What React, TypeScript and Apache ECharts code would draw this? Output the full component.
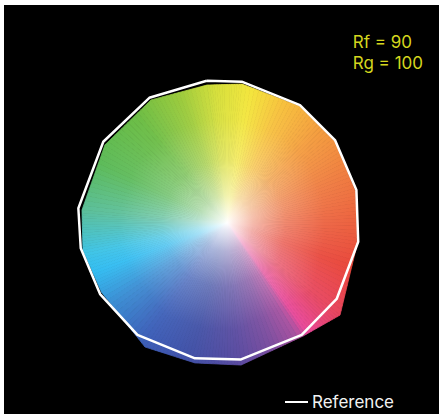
import React, { useEffect, useRef } from "react";
import * as echarts from "echarts";

// Reference polygon (normalised chroma coordinates, 16 hue bins)
const refX = [-0.084, 0.166, 0.582, 0.832, 0.985, 0.998, 0.844, 0.594, 0.161, -0.168, -0.579, -0.846, -0.984, -1.001, -0.823, -0.494];
const refY = [0.995, 0.988, 0.821, 0.571, 0.214, -0.155, -0.564, -0.821, -0.996, -0.988, -0.821, -0.529, -0.202, 0.084, 0.559, 0.873];

// Test source polygon (16 hue bins)
const testX = [-0.082, 0.168, 0.582, 0.832, 0.979, 0.989, 0.868, 0.604, 0.161, -0.168, -0.525, -0.836, -0.968, -0.975, -0.811, -0.482];
const testY = [0.964, 0.971, 0.811, 0.561, 0.2, -0.179, -0.679, -0.829, -1.036, -1.021, -0.907, -0.514, -0.214, 0.071, 0.536, 0.857];

const metricLabels = ["Rf = 90", "Rg = 100"];
const legendLabel = "Reference";

// hue wheel colour stops (angle in degrees, counter-clockwise from +x)
const hueStopAngles = [0, 20, 45, 65, 80, 95, 110, 130, 155, 175, 192, 200, 215, 235, 255, 275, 290, 302, 306, 320, 340, 360];
const hueStopColors = [
  "#ec623f", "#ef7a40", "#f49d3e", "#f7c13d", "#f3e63c", "#d5df3b", "#9ccb3c", "#6cbd45",
  "#5dbb5a", "#5bbf9a", "#3fc4e6", "#33bdf2", "#3b8dd3", "#3c5eb8", "#4150a6", "#5a4aa0",
  "#7d4d9f", "#a9509f", "#e9489a", "#e8455f", "#e9483c", "#ec623f",
];
const wheelCenter = [0.061, -0.021];

const FONT = 'Inter, "Noto Sans", "DejaVu Sans", sans-serif';

function hexToRgb(h: string): number[] {
  const v = parseInt(h.slice(1), 16);
  return [(v >> 16) & 255, (v >> 8) & 255, v & 255];
}
function hueRgb(deg: number): number[] {
  let a = ((deg % 360) + 360) % 360;
  for (let i = 0; i < hueStopAngles.length - 1; i++) {
    const a0 = hueStopAngles[i];
    const a1 = hueStopAngles[i + 1];
    if (a >= a0 && a <= a1) {
      const t = (a - a0) / (a1 - a0 || 1);
      const c0 = hexToRgb(hueStopColors[i]);
      const c1 = hexToRgb(hueStopColors[i + 1]);
      return c0.map((v, k) => v + (c1[k] - v) * t);
    }
  }
  return hexToRgb(hueStopColors[0]);
}
function mixWhite(c: number[], w: number): string {
  const r = c.map((v) => Math.round(v + (255 - v) * w));
  return `rgb(${r[0]},${r[1]},${r[2]})`;
}

export default function App() {
  const ref = useRef<HTMLDivElement>(null);
  useEffect(() => {
    if (!ref.current) return;
    const chart = echarts.init(ref.current, null, { renderer: "svg" });
    const K = 14;
    const renderItem = (_params: any, api: any) => {
      const c = api.coord(wheelCenter);
      const pts = testX.map((x, i) => api.coord([x, testY[i]]));
      const children: any[] = [];
      const n = pts.length;
      for (let i = 0; i < n; i++) {
        const a = pts[i];
        const b = pts[(i + 1) % n];
        for (let j = 0; j < K; j++) {
          const t0 = j / K;
          const t1 = (j + 1) / K;
          const tm = (t0 + t1) / 2;
          const q0 = [a[0] + (b[0] - a[0]) * t0, a[1] + (b[1] - a[1]) * t0];
          const q1 = [a[0] + (b[0] - a[0]) * t1, a[1] + (b[1] - a[1]) * t1];
          const m = [a[0] + (b[0] - a[0]) * tm, a[1] + (b[1] - a[1]) * tm];
          const ang = (Math.atan2(-(m[1] - c[1]), m[0] - c[0]) * 180) / Math.PI;
          const col = hueRgb(ang);
          const r = Math.hypot(m[0] - c[0], m[1] - c[1]);
          const grad = new echarts.graphic.RadialGradient(
            c[0], c[1], r,
            [
              { offset: 0, color: "#ffffff" },
              { offset: 0.05, color: mixWhite(col, 0.88) },
              { offset: 0.2, color: mixWhite(col, 0.58) },
              { offset: 0.45, color: mixWhite(col, 0.25) },
              { offset: 0.75, color: mixWhite(col, 0.05) },
              { offset: 1, color: mixWhite(col, 0) },
            ],
            true
          );
          children.push({
            type: "polygon",
            shape: { points: [c, q0, q1] },
            style: { fill: grad, stroke: grad, lineWidth: 0.8, lineJoin: "round" },
          });
        }
      }
      return { type: "group", children };
    };

    const refData = refX.map((x, i) => [x, refY[i]]);
    refData.push([refX[0], refY[0]]);

    chart.setOption({
      animation: false,
      backgroundColor: "#000000",
      grid: { left: 25.5, top: 26, width: 378, height: 378 },
      xAxis: { type: "value", min: -1.35, max: 1.35, show: false },
      yAxis: { type: "value", min: -1.35, max: 1.35, show: false },
      legend: {
        data: [legendLabel],
        left: 281,
        top: 388.5,
        icon: "rect",
        itemWidth: 23,
        itemHeight: 2,
        itemGap: 10,
        padding: 0,
        textStyle: { color: "#f2f2f2", fontSize: 17, fontFamily: FONT, padding: [0, 0, 0, -1] },
        selectedMode: false,
      },
      graphic: [
        {
          type: "text",
          right: 16,
          top: 26.5,
          style: {
            text: metricLabels.join("\n"),
            fill: "#d4d61e",
            font: `17px ${FONT}`,
            align: "right",
            lineHeight: 21,
          },
        },
      ],
      series: [
        {
          type: "custom",
          name: "Test",
          coordinateSystem: "cartesian2d",
          renderItem,
          data: [[0, 0]],
          z: 1,
          silent: true,
        },
        {
          type: "line",
          name: legendLabel,
          data: refData,
          symbol: "none",
          lineStyle: { color: "#ffffff", width: 2.5 },
          itemStyle: { color: "#ffffff" },
          z: 3,
          silent: true,
        },
      ],
    });
    return () => chart.dispose();
  }, []);
  return (
    <div style={{ position: "fixed", left: 0, top: 0, width: 439, height: 414, background: "#ffffff" }}>
      <div ref={ref} style={{ position: "absolute", left: 4, top: 5, width: 435, height: 409 }} />
    </div>
  );
}
